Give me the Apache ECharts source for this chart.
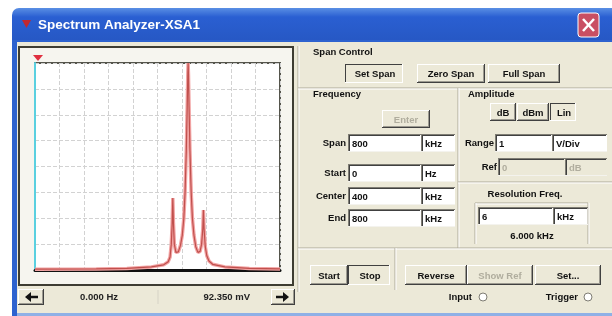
<!DOCTYPE html>
<html>
<head>
<meta charset="utf-8">
<script src="https://cdn.jsdelivr.net/npm/echarts@6.0.0/dist/echarts.min.js"></script>
</head>
<body style="margin:0;background:#fff">
<div id="container" style="width:612px;height:316px"></div>
<script>
// spectrum trace (kHz, V)
var freqKHz = [0, 200, 300, 380, 420, 435, 441, 445, 448, 450, 452, 455, 460, 468, 475, 481, 486, 490, 494, 497, 499, 500,
  501, 503, 506, 510, 514, 519, 525, 532, 539, 544, 548, 550, 552, 556, 561, 568, 580, 620, 700, 800];
var ampV = [0.03, 0.04, 0.06, 0.12, 0.2, 0.32, 0.5, 1.0, 1.8, 2.78, 1.8, 1.0, 0.68, 0.7, 0.95, 1.35, 2.0, 3.0, 4.6, 6.3, 7.6, 8,
  7.6, 6.3, 4.6, 3.0, 2.0, 1.35, 0.9, 0.68, 0.72, 1.0, 1.6, 2.32, 1.6, 0.9, 0.55, 0.35, 0.22, 0.12, 0.06, 0.04];

var windowTitle = 'Spectrum Analyzer-XSA1';
var cursorReadout = ['0.000 Hz', '92.350 mV'];
var spanButtons = ['Set Span', 'Zero Span', 'Full Span'];
var ampButtons = ['dB', 'dBm', 'Lin'];
var freqRows = [['Span', '800', 'kHz'], ['Start', '0', 'Hz'], ['Center', '400', 'kHz'], ['End', '800', 'kHz']];
var rangeRow = ['Range', '1', 'V/Div'];
var refRow = ['Ref', '0', 'dB'];
var resolution = ['Resolution Freq.', '6', 'kHz', '6.000 kHz'];
var runButtons = ['Start', 'Stop'];
var otherButtons = ['Reverse', 'Show Ref', 'Set...'];

var FONT = '"Liberation Sans", Arial, sans-serif';
var els = [];

function rect(x, y, w, h, fill, stroke, lw, z) {
  els.push({ type: 'rect', z: z || -5, shape: { x: x, y: y, width: w, height: h },
    style: { fill: fill || 'none', stroke: stroke || null, lineWidth: lw || 0 } });
}
function line(x1, y1, x2, y2, color, w, z) {
  els.push({ type: 'line', z: z || -4, shape: { x1: x1, y1: y1, x2: x2, y2: y2 },
    style: { stroke: color, lineWidth: w || 1 } });
}
function label(x, y, str, align, color, size, weight) {
  els.push({ type: 'text', z: 10, x: x, y: y,
    style: { text: str, fill: color || '#111', font: (weight || 'bold') + ' ' + (size || 10) + 'px ' + FONT,
      align: align || 'left', verticalAlign: 'middle' } });
}
function bevel(x, y, w, h, down) {
  var lt = down ? '#404040' : '#ffffff', rb = down ? '#ffffff' : '#404040';
  line(x, y + 0.5, x + w, y + 0.5, lt);
  line(x + 0.5, y, x + 0.5, y + h, lt);
  line(x, y + h - 0.5, x + w, y + h - 0.5, rb);
  line(x + w - 0.5, y, x + w - 0.5, y + h, rb);
  if (!down) {
    line(x + 1, y + h - 1.5, x + w - 1, y + h - 1.5, '#9c9a90');
    line(x + w - 1.5, y + 1, x + w - 1.5, y + h - 1, '#9c9a90');
  }
}
function button(x, y, w, h, str, state) {
  rect(x, y, w, h, '#ece9d8');
  bevel(x, y, w, h, state === 'down');
  label(x + w / 2 + (state === 'down' ? 1 : 0), y + h / 2 + 1, str, 'center', state === 'off' ? '#b0ad9e' : '#111', 9.5);
}
function field(x, y, w, h, str, off) {
  rect(x, y, w, h, off ? '#ece9d8' : '#ffffff');
  line(x, y + 0.5, x + w, y + 0.5, '#7f7d74');
  line(x + 0.5, y, x + 0.5, y + h, '#7f7d74');
  line(x + 1, y + 1.5, x + w - 1, y + 1.5, '#404040');
  line(x + 1.5, y + 1, x + 1.5, y + h - 1, '#404040');
  line(x, y + h - 0.5, x + w, y + h - 0.5, '#f4f3ee');
  label(x + 4, y + h / 2 + 1, str, 'left', off ? '#b0ad9e' : '#111', 9.5);
}
function groupLine(x1, y1, x2, y2) {
  line(x1, y1, x2, y2, '#aca899');
  if (x1 === x2) line(x1 + 1, y1, x2 + 1, y2, '#ffffff');
  else line(x1, y1 + 1, x2, y2 + 1, '#ffffff');
}

// window frame and title bar
rect(0, 0, 612, 316, '#ffffff', null, 0, -20);
els.push({ type: 'rect', z: -19, shape: { x: 12, y: 8, width: 620, height: 36, r: [7, 7, 0, 0] },
  style: { fill: new echarts.graphic.LinearGradient(0, 0, 0, 1, [
    { offset: 0, color: '#5a8fe4' }, { offset: 0.25, color: '#2a5fd2' }, { offset: 1, color: '#2657c2' }]) } });
rect(12, 40, 620, 276, '#2d62cf', null, 0, -19);
rect(17, 42, 600, 271, '#ece9d8', null, 0, -18);
rect(17, 313, 600, 3, '#8fb0e6', null, 0, -18);
els.push({ type: 'polygon', z: 10, shape: { points: [[22, 20], [31, 20], [26.5, 28]] }, style: { fill: '#c02830' } });
label(38, 25, windowTitle, 'left', '#ffffff', 13.5);
els.push({ type: 'rect', z: 10, shape: { x: 578, y: 13, width: 21, height: 24, r: 3 },
  style: { fill: '#c94f63', stroke: '#ffffff', lineWidth: 1 } });
line(583, 19, 594, 31, '#ffffff', 2.5, 11);
line(594, 19, 583, 31, '#ffffff', 2.5, 11);

// plot frame
rect(19, 47, 274, 238, '#f6f5ef', '#3e3d33', 2, -10);
rect(35, 63, 245, 207, '#ffffff', null, 0, -9);
els.push({ type: 'polygon', z: 10, shape: { points: [[33, 55], [43, 55], [38, 61]] }, style: { fill: '#e03040' } });

// readout bar
button(18, 289, 26, 16, '', 'up');
els.push({ type: 'polygon', z: 10, shape: { points: [[25, 297], [31, 292], [31, 302]] }, style: { fill: '#111' } });
line(30, 297, 38, 297, '#111', 2.5, 10);
button(271, 289, 24, 16, '', 'up');
els.push({ type: 'polygon', z: 10, shape: { points: [[289, 297], [283, 292], [283, 302]] }, style: { fill: '#111' } });
line(276, 297, 284, 297, '#111', 2.5, 10);
line(158, 290, 158, 304, '#d6d3c6', 1, -4);
label(118, 297, cursorReadout[0], 'right', '#222', 9.5);
label(250, 297, cursorReadout[1], 'right', '#222', 9.5);

// right panel: span control
groupLine(298, 46, 298, 292);
label(313, 52, 'Span Control', 'left', '#111', 9.5);
button(345, 64, 58, 19, spanButtons[0], 'down');
button(417, 64, 68, 19, spanButtons[1], 'up');
button(488, 64, 72, 19, spanButtons[2], 'up');

// frequency
groupLine(298, 88, 612, 88);
groupLine(458, 88, 458, 248);
label(313, 94, 'Frequency', 'left', '#111', 9.5);
button(382, 110, 48, 18, 'Enter', 'off');
freqRows.forEach(function (r, i) {
  var y = [134, 164, 187, 209][i];
  label(346, y + 9, r[0], 'right', '#111', 9.5);
  field(348, y, 73, 18, r[1]);
  field(421, y, 34, 18, r[2]);
});

// amplitude
label(468, 94, 'Amplitude', 'left', '#111', 9.5);
ampButtons.forEach(function (b, i) {
  button([490, 517, 550][i], 103, [26, 32, 26][i], 18, b, b === 'Lin' ? 'down' : 'up');
});
label(494, 143, rangeRow[0], 'right', '#111', 9.5);
field(495, 134, 57, 18, rangeRow[1]);
field(552, 134, 55, 18, rangeRow[2]);
label(497, 167, refRow[0], 'right', '#111', 9.5);
field(498, 158, 67, 18, refRow[1], true);
field(565, 158, 42, 18, refRow[2], true);
groupLine(458, 182, 612, 182);
label(525, 194, resolution[0], 'center', '#111', 9.5);
groupLine(475, 203, 588, 203);
groupLine(475, 203, 475, 244);
groupLine(588, 203, 588, 244);
field(478, 207, 75, 18, resolution[1]);
field(553, 207, 35, 18, resolution[2]);
label(532, 236, resolution[3], 'center', '#111', 9.5);

// run controls
groupLine(298, 248, 612, 248);
groupLine(395, 248, 395, 290);
button(310, 265, 38, 20, runButtons[0], 'up');
button(348, 265, 42, 20, runButtons[1], 'down');
button(405, 265, 62, 20, otherButtons[0], 'up');
button(467, 265, 66, 20, otherButtons[1], 'off');
button(535, 265, 66, 20, otherButtons[2], 'up');
label(472, 297, 'Input', 'right', '#111', 9.5);
els.push({ type: 'circle', z: 10, shape: { cx: 483, cy: 297, r: 4 }, style: { fill: '#fff', stroke: '#7f7d74', lineWidth: 1 } });
label(578, 297, 'Trigger', 'right', '#111', 9.5);
els.push({ type: 'circle', z: 10, shape: { cx: 588, cy: 297, r: 4 }, style: { fill: '#fff', stroke: '#7f7d74', lineWidth: 1 } });

var dom = document.getElementById('container');
var myChart = echarts.init(dom, null, { renderer: 'canvas' });

var trace = freqKHz.map(function (f, i) { return [f, ampV[i]]; });

var option = {
  animation: false,
  graphic: { elements: els },
  grid: { left: 35, top: 63, width: 245, height: 207, show: true, borderColor: '#55554c', borderWidth: 2 },
  xAxis: {
    type: 'value', min: 0, max: 800, interval: 80,
    axisLabel: { show: false }, axisTick: { show: false },
    axisLine: { show: true, onZero: false, lineStyle: { color: '#111', width: 3 } },
    splitLine: { show: true, lineStyle: { color: '#d2d2d2', type: 'dashed' } }
  },
  yAxis: {
    type: 'value', min: 0, max: 8, interval: 1,
    axisLabel: { show: false }, axisTick: { show: false },
    axisLine: { show: true, lineStyle: { color: '#5ad0e0', width: 2 } },
    splitLine: { show: true, lineStyle: { color: '#d2d2d2', type: 'dashed' } }
  },
  series: [
    {
      type: 'line', showSymbol: false, z: 3,
      data: trace,
      lineStyle: { color: '#f2a3a3', width: 3.5 }
    },
    {
      type: 'line', showSymbol: false, z: 4,
      data: trace,
      lineStyle: { color: '#c0504d', width: 1.2 }
    }
  ]
};
myChart.setOption(option);
</script>
</body>
</html>
